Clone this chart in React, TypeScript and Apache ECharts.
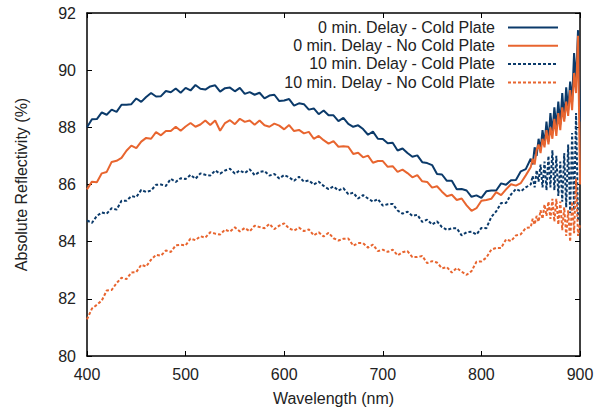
import React, { useEffect, useRef } from "react";
import * as echarts from "echarts";

const wavelengths = [
  400, 405, 410, 415, 420, 425, 430, 435, 440, 445, 450, 455, 460, 465, 470, 475, 480, 485, 490, 495,
  500, 505, 510, 515, 520, 525, 530, 535, 540, 545, 550, 555, 560, 565, 570, 575, 580, 585, 590, 595,
  600, 605, 610, 615, 620, 625, 630, 635, 640, 645, 650, 655, 660, 665, 670, 675, 680, 685, 690, 695,
  700, 705, 710, 715, 720, 725, 730, 735, 740, 745, 750, 755, 760, 765, 770, 775, 780, 785, 790, 795,
  800, 805, 810, 815, 820, 825, 830, 835, 840, 845,
  850, 852, 854, 856, 858, 860, 862, 864, 866, 868, 870, 872, 874, 876, 878, 880, 882, 884, 886, 888,
  890, 892, 894, 896, 898, 900,
];

const coldPlate0 = [
  88.0, 88.28, 88.29, 88.52, 88.44, 88.62, 88.54, 88.79, 88.79, 88.81, 89.01, 88.89, 89.06, 89.2, 89.08, 89.09, 89.27, 89.23, 89.36, 89.21,
  89.38, 89.29, 89.48, 89.35, 89.32, 89.43, 89.47, 89.25, 89.37, 89.39, 89.26, 89.38, 89.17, 89.23, 89.14, 89.21, 89.01, 89.11, 89.14, 88.92,
  88.94, 88.99, 88.76, 88.84, 88.81, 88.62, 88.66, 88.46, 88.59, 88.42, 88.42, 88.22, 88.33, 88.12, 88.02, 88.07, 87.94, 87.74, 87.85, 87.6,
  87.59, 87.44, 87.46, 87.19, 87.26, 87.1, 86.97, 87.02, 86.78, 86.75, 86.68, 86.37, 86.35, 86.13, 86.13, 85.83, 85.84, 85.79, 85.57, 85.62,
  85.53, 85.76, 85.79, 85.79, 86.04, 85.99, 86.15, 86.16, 86.46, 86.54,
  86.9, 86.7, 87.3, 87.0, 87.6, 87.2, 87.9, 87.4, 88.2, 87.5, 88.5, 87.8, 88.7, 88.0, 88.9, 88.1, 89.2, 88.3, 89.4, 88.6,
  89.6, 88.9, 90.6, 89.6, 91.4, 88.2,
];

const noColdPlate0 = [
  85.83, 86.1, 86.08, 86.39, 86.44, 86.79, 86.83, 86.93, 87.18, 87.36, 87.27, 87.5, 87.63, 87.6, 87.83, 87.72, 87.87, 87.87, 88.02, 87.88,
  88.03, 88.15, 88.02, 88.1, 88.24, 88.08, 88.24, 87.88, 88.15, 88.25, 88.11, 88.3, 88.19, 88.24, 88.09, 88.24, 88.07, 88.02, 88.13, 88.06,
  87.93, 88.08, 87.87, 87.91, 87.79, 87.84, 87.6, 87.7, 87.55, 87.43, 87.52, 87.32, 87.34, 87.32, 87.07, 87.11, 86.95, 87.01, 86.76, 86.82,
  86.82, 86.62, 86.64, 86.44, 86.52, 86.4, 86.25, 86.33, 86.11, 86.09, 85.89, 85.94, 85.75, 85.59, 85.64, 85.46, 85.51, 85.27, 85.08, 85.17,
  85.43, 85.46, 85.5, 85.73, 85.63, 85.83, 86.01, 85.96, 86.05, 86.32,
  86.6, 86.9, 86.7, 87.2, 87.4, 87.1, 87.6, 87.3, 87.9, 87.4, 88.0, 87.6, 88.3, 87.7, 88.5, 87.9, 88.7, 88.2, 88.9, 88.4,
  89.3, 88.6, 89.9, 89.2, 91.2, 86.0,
];

const coldPlate10 = [
  84.74, 84.66, 84.9, 85.02, 84.98, 85.17, 85.12, 85.43, 85.43, 85.59, 85.56, 85.81, 85.74, 85.79, 85.99, 86.0, 85.95, 86.2, 86.09, 86.22,
  86.19, 86.34, 86.2, 86.39, 86.34, 86.31, 86.49, 86.38, 86.49, 86.55, 86.38, 86.49, 86.4, 86.53, 86.33, 86.44, 86.47, 86.31, 86.37, 86.21,
  86.33, 86.25, 86.13, 86.27, 86.1, 86.14, 86.0, 86.1, 85.95, 85.84, 85.93, 85.79, 85.87, 85.66, 85.71, 85.51, 85.63, 85.51, 85.4, 85.49,
  85.26, 85.31, 85.32, 85.09, 84.98, 85.05, 84.9, 84.94, 84.69, 84.77, 84.6, 84.71, 84.51, 84.41, 84.47, 84.47, 84.22, 84.33, 84.35, 84.25,
  84.48, 84.47, 84.86, 85.06, 85.35, 85.35, 85.65, 85.84, 85.76, 85.9,
  86.0, 86.3, 85.9, 86.5, 86.1, 86.7, 85.9, 86.8, 85.8, 87.0, 85.9, 87.2, 85.8, 87.0, 85.6, 86.8, 85.4, 87.1, 85.2, 87.4,
  85.0, 87.8, 85.1, 88.5, 84.8, 84.7,
];

const noColdPlate10 = [
  81.28, 81.66, 81.79, 81.94, 82.29, 82.31, 82.55, 82.74, 82.69, 82.92, 82.94, 83.19, 83.13, 83.37, 83.54, 83.51, 83.69, 83.64, 83.87, 83.89,
  83.87, 84.11, 84.05, 84.19, 84.14, 84.33, 84.28, 84.25, 84.42, 84.35, 84.5, 84.36, 84.48, 84.36, 84.56, 84.51, 84.47, 84.62, 84.44, 84.56,
  84.64, 84.46, 84.39, 84.49, 84.37, 84.43, 84.22, 84.33, 84.18, 84.31, 84.12, 84.04, 84.1, 84.11, 83.86, 83.95, 83.95, 83.79, 83.9, 83.67,
  83.72, 83.64, 83.72, 83.52, 83.63, 83.67, 83.46, 83.46, 83.5, 83.25, 83.32, 83.27, 83.07, 83.11, 82.92, 83.08, 82.95, 82.84, 82.97, 83.3,
  83.31, 83.44, 83.72, 83.78, 83.78, 84.08, 84.02, 84.22, 84.26, 84.48,
  84.5, 84.8, 84.6, 84.9, 84.7, 85.1, 84.8, 85.3, 84.9, 85.4, 84.8, 85.5, 84.7, 85.5, 84.6, 85.4, 84.4, 85.2, 84.2, 85.1,
  84.0, 85.4, 84.3, 86.2, 84.2, 84.6,
];

const seriesNames = [
  "0 min. Delay - Cold Plate",
  "0 min. Delay - No Cold Plate",
  "10 min. Delay - Cold Plate",
  "10 min. Delay - No Cold Plate",
];

const BLUE = "#0b3a6a";
const ORANGE = "#e8652f";
const FONT = "'Liberation Sans', Arial, Helvetica, sans-serif";

export default function App() {
  const ref = useRef<HTMLDivElement>(null);

  useEffect(() => {
    if (!ref.current) return;
    const chart = echarts.init(ref.current, undefined, { renderer: "svg" });
    const values = [coldPlate0, noColdPlate0, coldPlate10, noColdPlate10];
    const colors = [BLUE, ORANGE, BLUE, ORANGE];
    const dashed = [false, false, true, true];

    const axisLine = { show: true, lineStyle: { color: "#000", width: 1.5 } };
    const tick = { show: true, inside: true, length: 5, lineStyle: { color: "#000", width: 1 } };

    const legendRowY = [27, 45.3, 63.6, 82];
    const legendGraphics: any[] = [];
    seriesNames.forEach((name, k) => {
      legendGraphics.push({
        type: "text",
        x: 495,
        y: legendRowY[k],
        z: 100,
        style: {
          text: name,
          align: "right",
          verticalAlign: "middle",
          font: `16px ${FONT}`,
          fill: "#222",
        },
      });
      legendGraphics.push({
        type: "line",
        z: 100,
        shape: { x1: 508, y1: legendRowY[k] + 0.5, x2: 558, y2: legendRowY[k] + 0.5 },
        style: {
          stroke: colors[k],
          lineWidth: 2,
          lineDash: dashed[k] ? [3, 2] : null,
        },
      });
    });

    chart.setOption({
      animation: false,
      backgroundColor: "#fff",
      grid: { left: 87, right: 17, top: 13, bottom: 59, containLabel: false },
      graphic: legendGraphics,
      xAxis: [
        {
          type: "value",
          min: 400,
          max: 900,
          interval: 100,
          position: "bottom",
          name: "Wavelength (nm)",
          nameLocation: "middle",
          nameGap: 34,
          nameTextStyle: { fontSize: 16, color: "#222", fontFamily: FONT },
          axisLine,
          axisTick: tick,
          axisLabel: { fontSize: 16, color: "#222", fontFamily: FONT, margin: 10 },
          splitLine: { show: false },
        },
        {
          type: "value",
          min: 400,
          max: 900,
          interval: 100,
          position: "top",
          axisLine,
          axisTick: tick,
          axisLabel: { show: false },
          splitLine: { show: false },
        },
      ],
      yAxis: [
        {
          type: "value",
          min: 80,
          max: 92,
          interval: 2,
          position: "left",
          name: "Absolute Reflectivity (%)",
          nameLocation: "middle",
          nameGap: 58,
          nameTextStyle: { fontSize: 16, color: "#222", fontFamily: FONT },
          axisLine,
          axisTick: tick,
          axisLabel: { fontSize: 16, color: "#222", fontFamily: FONT, margin: 11 },
          splitLine: { show: false },
        },
        {
          type: "value",
          min: 80,
          max: 92,
          interval: 2,
          position: "right",
          axisLine,
          axisTick: tick,
          axisLabel: { show: false },
          splitLine: { show: false },
        },
      ],
      series: seriesNames.map((name, k) => ({
        name,
        type: "line",
        xAxisIndex: 0,
        yAxisIndex: 0,
        symbol: "none",
        showSymbol: false,
        data: wavelengths.map((w, i) => [w, values[k][i]]),
        lineStyle: {
          color: colors[k],
          width: 2,
          type: dashed[k] ? [3, 2] : "solid",
        },
        itemStyle: { color: colors[k] },
        z: 2 + k,
      })),
    });

    return () => chart.dispose();
  }, []);

  return (
    <div
      ref={ref}
      style={{ position: "fixed", left: 0, top: 0, width: 597, height: 415 }}
    />
  );
}
